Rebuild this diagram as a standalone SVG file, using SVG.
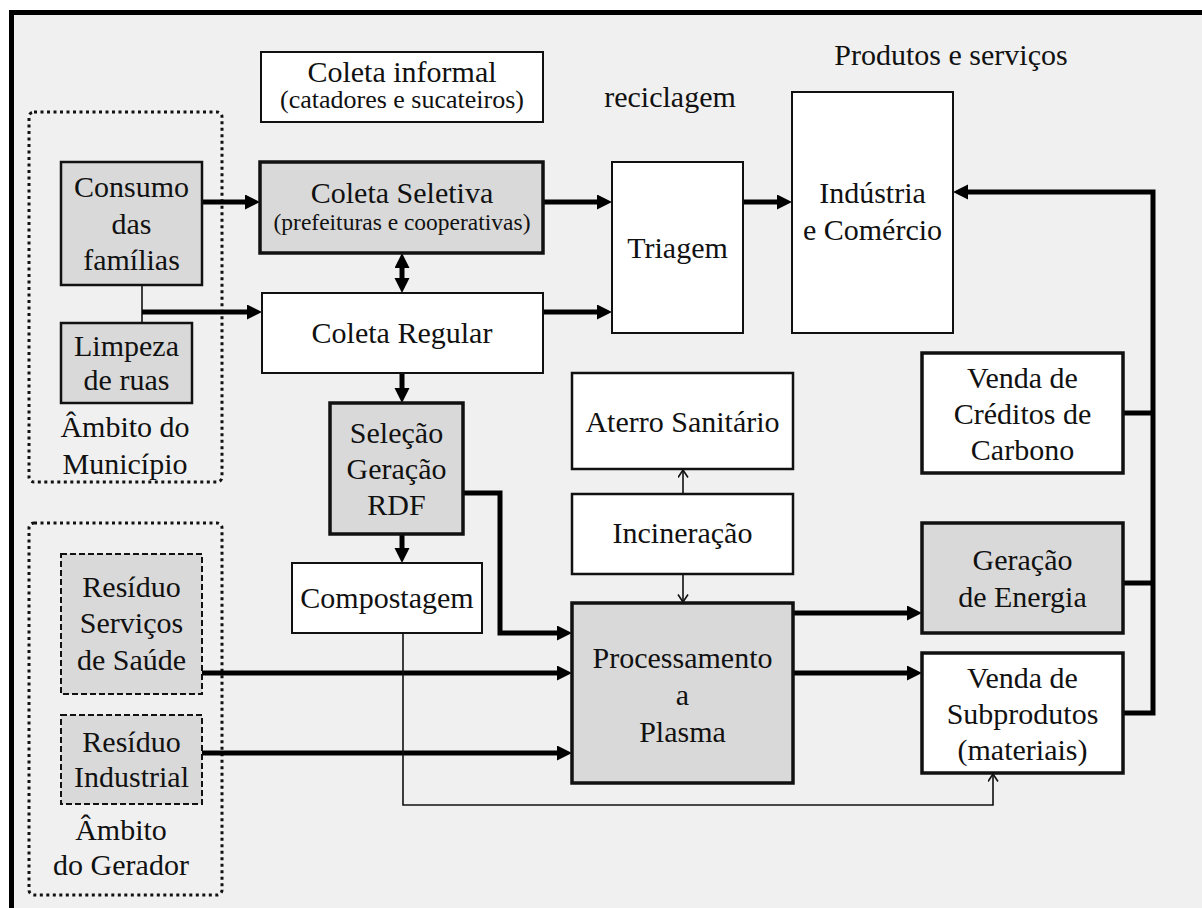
<svg xmlns="http://www.w3.org/2000/svg" width="1202" height="908" viewBox="0 0 1202 908">
  <style>
    text { font-family: "Liberation Serif", "Times New Roman", serif; font-size: 30px; fill: #111; text-anchor: middle; }
    .small { font-size: 26px; }
    .box { fill: #ffffff; stroke: #111; stroke-width: 2; }
    .gray { fill: #d9d9d9; stroke: #111; stroke-width: 2.5; }
    .bold { stroke-width: 3.5; }
    .dashed { fill: #d9d9d9; stroke: #111; stroke-width: 2; stroke-dasharray: 6 3; }
    .scope { fill: none; stroke: #111; stroke-width: 3; stroke-dasharray: 3 3.5; }
    .thick { fill: none; stroke: #000; stroke-width: 5; }
    .thin { fill: none; stroke: #111; stroke-width: 1.6; }
  </style>
  <defs>
    <marker id="head" markerUnits="userSpaceOnUse" markerWidth="16" markerHeight="16" refX="3" refY="7.5" orient="auto-start-reverse">
      <path d="M0,0 L15,7.5 L0,15 z" fill="#000"/>
    </marker>
    <marker id="open" markerUnits="userSpaceOnUse" markerWidth="12" markerHeight="12" refX="8" refY="5.5" orient="auto">
      <path d="M0.5,0.5 L8,5.5 L0.5,10.5" fill="none" stroke="#111" stroke-width="1.6"/>
    </marker>
  </defs>

  <!-- frame and background -->
  <rect x="0" y="0" width="1202" height="908" fill="#ffffff"/>
  <rect x="11" y="12" width="1191" height="896" fill="#f0f0f0"/>
  <path d="M11.5,908 V12.5 H1202" fill="none" stroke="#000" stroke-width="5"/>

  <!-- scope regions -->
  <g id="ambito-municipio">
    <rect class="scope" x="29" y="112" width="193" height="370" rx="5"/>
    <text x="125" y="437">Âmbito do</text>
    <text x="125" y="474">Município</text>
  </g>
  <g id="ambito-gerador">
    <rect class="scope" x="29" y="523" width="193" height="372" rx="5"/>
    <text x="121" y="840">Âmbito</text>
    <text x="121" y="875">do Gerador</text>
  </g>

  <!-- free labels -->
  <g id="label-reciclagem"><text x="670" y="107">reciclagem</text></g>
  <g id="label-produtos"><text x="951" y="65">Produtos e serviços</text></g>

  <!-- connectors -->
  <g id="connectors">
    <path class="thick" d="M202,202 H248" marker-end="url(#head)"/>
    <path class="thin" d="M142,285 V323"/>
    <path class="thick" d="M142,312 H250" marker-end="url(#head)"/>
    <path class="thick" d="M402,265 V281" marker-start="url(#head)" marker-end="url(#head)"/>
    <path class="thick" d="M402,373 V391" marker-end="url(#head)"/>
    <path class="thick" d="M402,534 V551" marker-end="url(#head)"/>
    <path class="thick" d="M463,493 H500 V633 H560" marker-end="url(#head)"/>
    <path class="thick" d="M543,202 H600" marker-end="url(#head)"/>
    <path class="thick" d="M543,312 H600" marker-end="url(#head)"/>
    <path class="thick" d="M743,202 H780" marker-end="url(#head)"/>
    <path class="thick" d="M1123,713 H1153 V192 H965" marker-end="url(#head)"/>
    <path class="thick" d="M1123,413 H1153"/>
    <path class="thick" d="M1123,583 H1153"/>
    <path class="thin" d="M683,494 V470" marker-end="url(#open)"/>
    <path class="thin" d="M683,574 V602" marker-end="url(#open)"/>
    <path class="thick" d="M202,673 H560" marker-end="url(#head)"/>
    <path class="thick" d="M202,753 H560" marker-end="url(#head)"/>
    <path class="thick" d="M793,613 H910" marker-end="url(#head)"/>
    <path class="thick" d="M793,673 H910" marker-end="url(#head)"/>
    <path class="thin" d="M403,633 V805 H993 V774" marker-end="url(#open)"/>
  </g>

  <!-- nodes -->
  <g id="coleta-informal">
    <rect class="box" x="261" y="52" width="282" height="70"/>
    <text x="402" y="82">Coleta informal</text>
    <text class="small" x="402" y="108">(catadores e sucateiros)</text>
  </g>
  <g id="consumo">
    <rect class="gray" x="61" y="162" width="141" height="123"/>
    <text x="131.5" y="197">Consumo</text>
    <text x="131.5" y="234">das</text>
    <text x="131.5" y="270">famílias</text>
  </g>
  <g id="limpeza">
    <rect class="gray" x="61" y="323" width="131" height="80"/>
    <text x="126.5" y="356">Limpeza</text>
    <text x="126.5" y="390">de ruas</text>
  </g>
  <g id="coleta-seletiva">
    <rect class="gray bold" x="260" y="162" width="283" height="91"/>
    <text x="402" y="203">Coleta Seletiva</text>
    <text x="402" y="230" style="font-size:24px" textLength="257" lengthAdjust="spacingAndGlyphs">(prefeituras e cooperativas)</text>
  </g>
  <g id="coleta-regular">
    <rect class="box" x="262" y="293" width="281" height="80"/>
    <text x="402" y="343">Coleta Regular</text>
  </g>
  <g id="selecao-rdf">
    <rect class="gray bold" x="330" y="403" width="133" height="131"/>
    <text x="396.5" y="443">Seleção</text>
    <text x="396.5" y="479">Geração</text>
    <text x="396.5" y="515">RDF</text>
  </g>
  <g id="compostagem">
    <rect class="box" x="292" y="563" width="190" height="70"/>
    <text x="387" y="608">Compostagem</text>
  </g>
  <g id="residuo-saude">
    <rect class="dashed" x="61" y="554" width="141" height="140"/>
    <text x="131.5" y="597">Resíduo</text>
    <text x="131.5" y="633">Serviços</text>
    <text x="131.5" y="670">de Saúde</text>
  </g>
  <g id="residuo-industrial">
    <rect class="dashed" x="61" y="715" width="141" height="89"/>
    <text x="131.5" y="752">Resíduo</text>
    <text x="131.5" y="787">Industrial</text>
  </g>
  <g id="triagem">
    <rect class="box" x="612" y="162" width="131" height="171"/>
    <text x="677.5" y="258">Triagem</text>
  </g>
  <g id="industria">
    <rect class="box" x="792" y="92" width="161" height="241"/>
    <text x="872.5" y="203">Indústria</text>
    <text x="872.5" y="240">e Comércio</text>
  </g>
  <g id="aterro">
    <rect class="box" x="572" y="373" width="221" height="96" style="stroke-width:2.5"/>
    <text x="682.5" y="432">Aterro Sanitário</text>
  </g>
  <g id="incineracao">
    <rect class="box" x="572" y="494" width="221" height="80" style="stroke-width:2.5"/>
    <text x="682.5" y="543">Incineração</text>
  </g>
  <g id="plasma">
    <rect class="gray bold" x="572" y="603" width="221" height="180"/>
    <text x="682.5" y="668">Processamento</text>
    <text x="682.5" y="705">a</text>
    <text x="682.5" y="742">Plasma</text>
  </g>
  <g id="creditos-carbono">
    <rect class="box bold" x="922" y="353" width="201" height="120"/>
    <text x="1022.5" y="388">Venda de</text>
    <text x="1022.5" y="424">Créditos de</text>
    <text x="1022.5" y="460">Carbono</text>
  </g>
  <g id="geracao-energia">
    <rect class="gray bold" x="922" y="523" width="201" height="110"/>
    <text x="1022.5" y="570">Geração</text>
    <text x="1022.5" y="607">de Energia</text>
  </g>
  <g id="subprodutos">
    <rect class="box bold" x="922" y="653" width="201" height="120"/>
    <text x="1022.5" y="688">Venda de</text>
    <text x="1022.5" y="724">Subprodutos</text>
    <text x="1022.5" y="760">(materiais)</text>
  </g>
</svg>
